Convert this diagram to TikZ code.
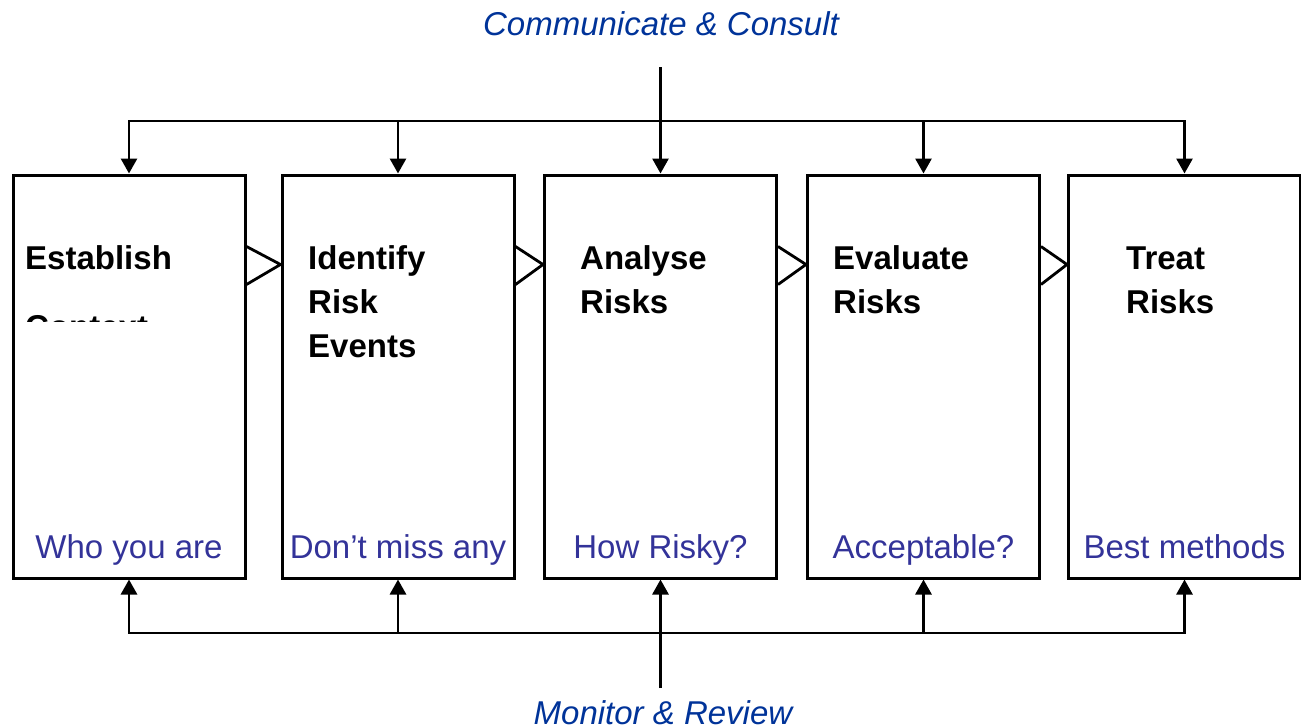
\documentclass[tikz,border=0pt]{standalone}
\usepackage{fontspec}
\setmainfont{Liberation Sans}
\usetikzlibrary{arrows.meta}
\definecolor{topblue}{HTML}{003399}
\definecolor{lblue}{HTML}{333399}
\tikzset{
  box/.style={draw, line width=3pt, minimum width=232pt, minimum height=403pt, inner sep=0pt},
  ttl/.style={font=\fontsize{33}{40}\selectfont\bfseries, anchor=base west, inner sep=0pt},
  lbl/.style={font=\fontsize{33}{40}\selectfont, text=lblue, anchor=base, inner sep=0pt},
  hdr/.style={font=\fontsize{33}{40}\selectfont\itshape, text=topblue, anchor=base, inner sep=0pt},
  conn/.style={line width=2.8pt, line cap=rect},
  arr/.style={line width=2.8pt, -{Triangle[length=15pt,width=16pt]}},
  tri/.style={line width=2.8pt, line join=miter},
}
\begin{document}
\begin{tikzpicture}[x=1pt,y=-1pt]
\useasboundingbox (0,0) rectangle (1301,728);
% boxes
\node[box] (b1) at (129,376.5) {};
\node[box] (b2) at (398,376.5) {};
\node[box] (b3) at (660.5,376.5) {};
\node[box] (b4) at (923.5,376.5) {};
\node[box] (b5) at (1184.5,376.5) {};
% open triangles between boxes
\foreach \a/\b in {b1/b2,b2/b3,b3/b4,b4/b5}{
  \draw[tri] ([yshift=-73pt]\a.north east) -- ([yshift=-91pt]\b.north west) -- ([yshift=-111pt]\a.north east);
}
% titles
\node[ttl] (t1a) at (25,269) {Establish};
\begin{scope}
  \clip (0,0) rectangle (1301,321);
  \node[ttl] (t1b) at (25,338) {Context};
\end{scope}
\node[ttl] (t2a) at (308,269) {Identify};
\node[ttl] (t2b) at (308,313) {Risk};
\node[ttl] (t2c) at (308,357) {Events};
\node[ttl] (t3a) at (580,269) {Analyse};
\node[ttl] (t3b) at (580,313) {Risks};
\node[ttl] (t4a) at (833,269) {Evaluate};
\node[ttl] (t4b) at (833,313) {Risks};
\node[ttl] (t5a) at (1126,269) {Treat};
\node[ttl] (t5b) at (1126,313) {Risks};
% bottom labels
\node[lbl] (l1) at (b1.center |- 0,558) {Who you are};
\node[lbl] (l2) at (b2.center |- 0,558) {Don’t miss any};
\node[lbl] (l3) at (b3.center |- 0,558) {How Risky?};
\node[lbl] (l4) at (b4.center |- 0,558) {Acceptable?};
\node[lbl] (l5) at (b5.center |- 0,558) {Best methods};
% header / footer
\node[hdr] (cc) at (661,35) {Communicate \& Consult};
\node[hdr] (mr) at (663,724) {Monitor \& Review};
% top connectors
\coordinate (ctop) at (660.5,67);
\coordinate (bus) at (0,121);
\draw[conn] (b1.north |- bus) -- (b5.north |- bus);
\draw[arr] (ctop) -- (b3.north);
\foreach \b in {b1,b2,b4,b5}{
  \draw[arr] (\b.north |- bus) -- (\b.north);
}
% bottom connectors
\coordinate (cbot) at (660.5,688);
\coordinate (bus2) at (0,633);
\draw[conn] (b1.south |- bus2) -- (b5.south |- bus2);
\draw[arr] (cbot) -- (b3.south);
\foreach \b in {b1,b2,b4,b5}{
  \draw[arr] (\b.south |- bus2) -- (\b.south);
}
\end{tikzpicture}
\end{document}
